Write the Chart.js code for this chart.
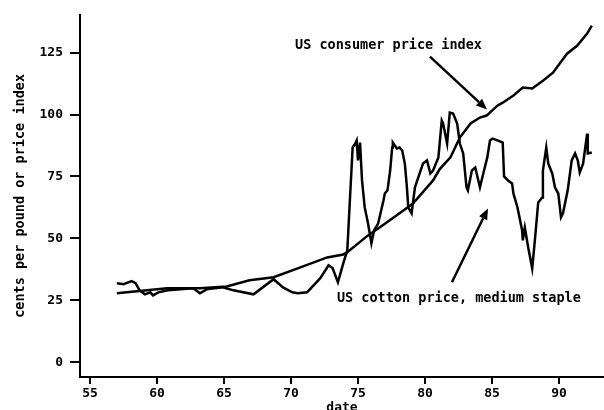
<!DOCTYPE html>
<html><head><meta charset="utf-8">
<script src="https://cdn.jsdelivr.net/npm/chart.js@4.4.1/dist/chart.umd.min.js"></script>
<style>html,body{margin:0;padding:0;background:#fff;overflow:hidden}#wrap{width:604px;height:410px}</style>
</head><body><div id="wrap"><canvas id="c" width="604" height="410"></canvas></div>
<script>
// US cotton price, medium staple (cents per pound)
const cottonYears = [
 57.0, 57.5, 58.1, 58.4, 58.7, 59.1, 59.5, 59.7, 60.1, 60.8,
 62.7, 63.2, 63.7, 64.9, 65.7, 67.2, 68.7, 69.4, 70.1, 70.5,
 71.2, 72.2, 72.8, 73.1, 73.5, 73.9, 74.2, 74.4, 74.6, 74.8,
 74.9, 75.0, 75.15, 75.3, 75.5, 75.75, 76.0, 76.2, 76.5, 76.9,
 77.0, 77.2, 77.4, 77.55, 77.6, 77.9, 78.1, 78.3, 78.5, 78.65,
 78.75, 79.0, 79.25, 79.5, 79.85, 80.15, 80.4, 80.6, 81.0, 81.25,
 81.35, 81.65, 81.85, 82.1, 82.4, 82.6, 82.85, 83.1, 83.2, 83.5,
 83.75, 84.1, 84.35, 84.65, 84.85, 85.05, 85.45, 85.8, 85.9, 86.2,
 86.5, 86.6, 86.9, 87.25, 87.3, 87.45, 87.7, 88.0, 88.2, 88.45,
 88.75, 88.8, 89.05, 89.2, 89.5, 89.7, 89.95, 90.15, 90.3, 90.65,
 90.95, 91.2, 91.4, 91.55, 91.8, 92.1, 92.15, 92.45
];
const cottonPrice = [
 31.9, 31.5, 32.7, 31.9, 29.0, 27.4, 28.2, 27.0, 28.2, 29.0,
 29.8, 27.8, 29.4, 30.2, 29.0, 27.4, 33.5, 30.2, 28.2, 27.8,
 28.2, 34.0, 39.1, 38.0, 32.3, 39.9, 45.2, 66.1, 86.7, 88.3,
 89.5, 81.5, 88.7, 73.4, 62.5, 56.0, 48.0, 53.2, 56.0, 65.3,
 68.1, 69.4, 77.4, 86.7, 88.7, 86.3, 86.7, 85.5, 80.0, 70.6,
 62.5, 60.1, 70.6, 74.6, 80.2, 81.5, 76.2, 77.4, 82.7, 97.6,
 96.4, 88.3, 100.8, 100.4, 96.4, 88.3, 84.3, 70.6, 69.4, 77.4,
 78.6, 70.6, 76.2, 82.7, 89.5, 90.3, 89.5, 88.7, 75.0, 73.4,
 72.2, 68.1, 62.5, 53.2, 49.2, 54.4, 46.4, 37.9, 49.2, 64.5,
 66.5, 77.4, 86.7, 80.2, 76.2, 70.6, 68.1, 58.5, 60.1, 69.4,
 81.5, 84.3, 81.5, 76.6, 80.2, 92.3, 84.3, 84.7
];
// US consumer price index
const cpiYears = [
 57.0, 60.75, 63.2, 65.2, 66.9, 68.7, 70.7, 72.7, 73.9, 74.2,
 75.7, 76.9, 78.1, 79.1, 80.6, 81.1, 81.9, 82.6, 83.4, 84.1,
 84.6, 85.4, 85.8, 86.6, 87.3, 88.0, 88.8, 89.55, 90.6, 91.35,
 92.1, 92.45
];
const cpiValues = [
 27.8, 29.8, 29.8, 30.6, 33.1, 34.3, 38.3, 42.3, 43.5, 44.4,
 51.0, 55.5, 60.1, 64.1, 73.4, 78.0, 82.7, 90.7, 96.4, 98.8,
 99.6, 103.6, 104.8, 107.7, 110.9, 110.5, 113.7, 116.9, 124.6, 127.8,
 132.7, 135.9
];
const xTickValues = [55, 60, 65, 70, 75, 80, 85, 90];
const yTickValues = [0, 25, 50, 75, 100, 125];
const xTitle = 'date';
const yTitle = 'cents per pound or price index';
const noteTexts = ['US consumer price index', 'US cotton price, medium staple'];
const noteTextAt = [[70.3, 127.8], [73.43, 25.8]];
const noteArrowFrom = [[80.37, 123.4], [82.01, 32.3]];
const noteArrowTo = [[84.63, 102.0], [84.70, 62.1]];

const MONO = '"DejaVu Sans Mono", "Liberation Mono", monospace';
const toXY = (xs, ys) => xs.map((v, i) => ({x: v, y: ys[i]}));

const notesPlugin = {
  id: 'notes',
  afterDatasetsDraw(chart) {
    const {ctx, scales: {x, y}} = chart;
    ctx.save();
    ctx.fillStyle = '#000';
    ctx.strokeStyle = '#000';
    ctx.font = 'bold 13.5px ' + MONO;
    ctx.textBaseline = 'middle';
    ctx.textAlign = 'left';
    noteTexts.forEach((t, i) => {
      ctx.fillText(t, x.getPixelForValue(noteTextAt[i][0]), y.getPixelForValue(noteTextAt[i][1]));
      const x0 = x.getPixelForValue(noteArrowFrom[i][0]), y0 = y.getPixelForValue(noteArrowFrom[i][1]);
      const x1 = x.getPixelForValue(noteArrowTo[i][0]), y1 = y.getPixelForValue(noteArrowTo[i][1]);
      const ang = Math.atan2(y1 - y0, x1 - x0);
      const hl = 11, hw = 4.5;
      const bx = x1 - hl * Math.cos(ang), by = y1 - hl * Math.sin(ang);
      ctx.lineWidth = 2.5;
      ctx.beginPath(); ctx.moveTo(x0, y0); ctx.lineTo(bx, by); ctx.stroke();
      ctx.beginPath();
      ctx.moveTo(x1, y1);
      ctx.lineTo(bx + hw * Math.sin(ang), by - hw * Math.cos(ang));
      ctx.lineTo(bx - hw * Math.sin(ang), by + hw * Math.cos(ang));
      ctx.closePath(); ctx.fill();
    });
    ctx.restore();
  }
};

new Chart(document.getElementById('c'), {
  type: 'line',
  data: {
    datasets: [
      {label: 'US cotton price, medium staple', data: toXY(cottonYears, cottonPrice),
       borderColor: '#000', borderWidth: 2.5, pointRadius: 0, tension: 0, fill: false},
      {label: 'US consumer price index', data: toXY(cpiYears, cpiValues),
       borderColor: '#000', borderWidth: 2.5, pointRadius: 0, tension: 0, fill: false}
    ]
  },
  options: {
    responsive: false, animation: false, devicePixelRatio: 1,
    layout: {padding: {top: 14, right: 0, bottom: 0, left: 0}},
    plugins: {legend: {display: false}, tooltip: {enabled: false}},
    scales: {
      x: {
        type: 'linear', min: 54.25, max: 93.36,
        afterFit(s) { s.height = 33; },
        afterBuildTicks(s) { s.ticks = xTickValues.map(v => ({value: v})); },
        ticks: {color: '#000', padding: 2, autoSkip: false, maxRotation: 0,
                font: {family: MONO, size: 13, weight: 'bold'}, callback: v => String(v)},
        grid: {drawOnChartArea: false, drawTicks: true, tickLength: 7, lineWidth: 2, color: '#000'},
        border: {display: true, color: '#000', width: 2},
        title: {display: true, text: xTitle, color: '#000',
                font: {family: MONO, size: 13, weight: 'bold', lineHeight: 1}, padding: {top: 0, bottom: -4}}
      },
      y: {
        type: 'linear', min: -6, max: 140.3,
        afterFit(s) { s.width = 80; },
        afterBuildTicks(s) { s.ticks = yTickValues.map(v => ({value: v})); },
        ticks: {color: '#000', padding: 7,
                font: {family: MONO, size: 13, weight: 'bold'}, callback: v => String(v)},
        grid: {drawOnChartArea: false, drawTicks: true, tickLength: 10, lineWidth: 2, color: '#000'},
        border: {display: true, color: '#000', width: 2},
        title: {display: true, text: yTitle, color: '#000',
                font: {family: MONO, size: 13.5, weight: 'bold', lineHeight: 1.2}, padding: {top: 12, bottom: 0}}
      }
    }
  },
  plugins: [notesPlugin]
});
</script>
</body></html>
